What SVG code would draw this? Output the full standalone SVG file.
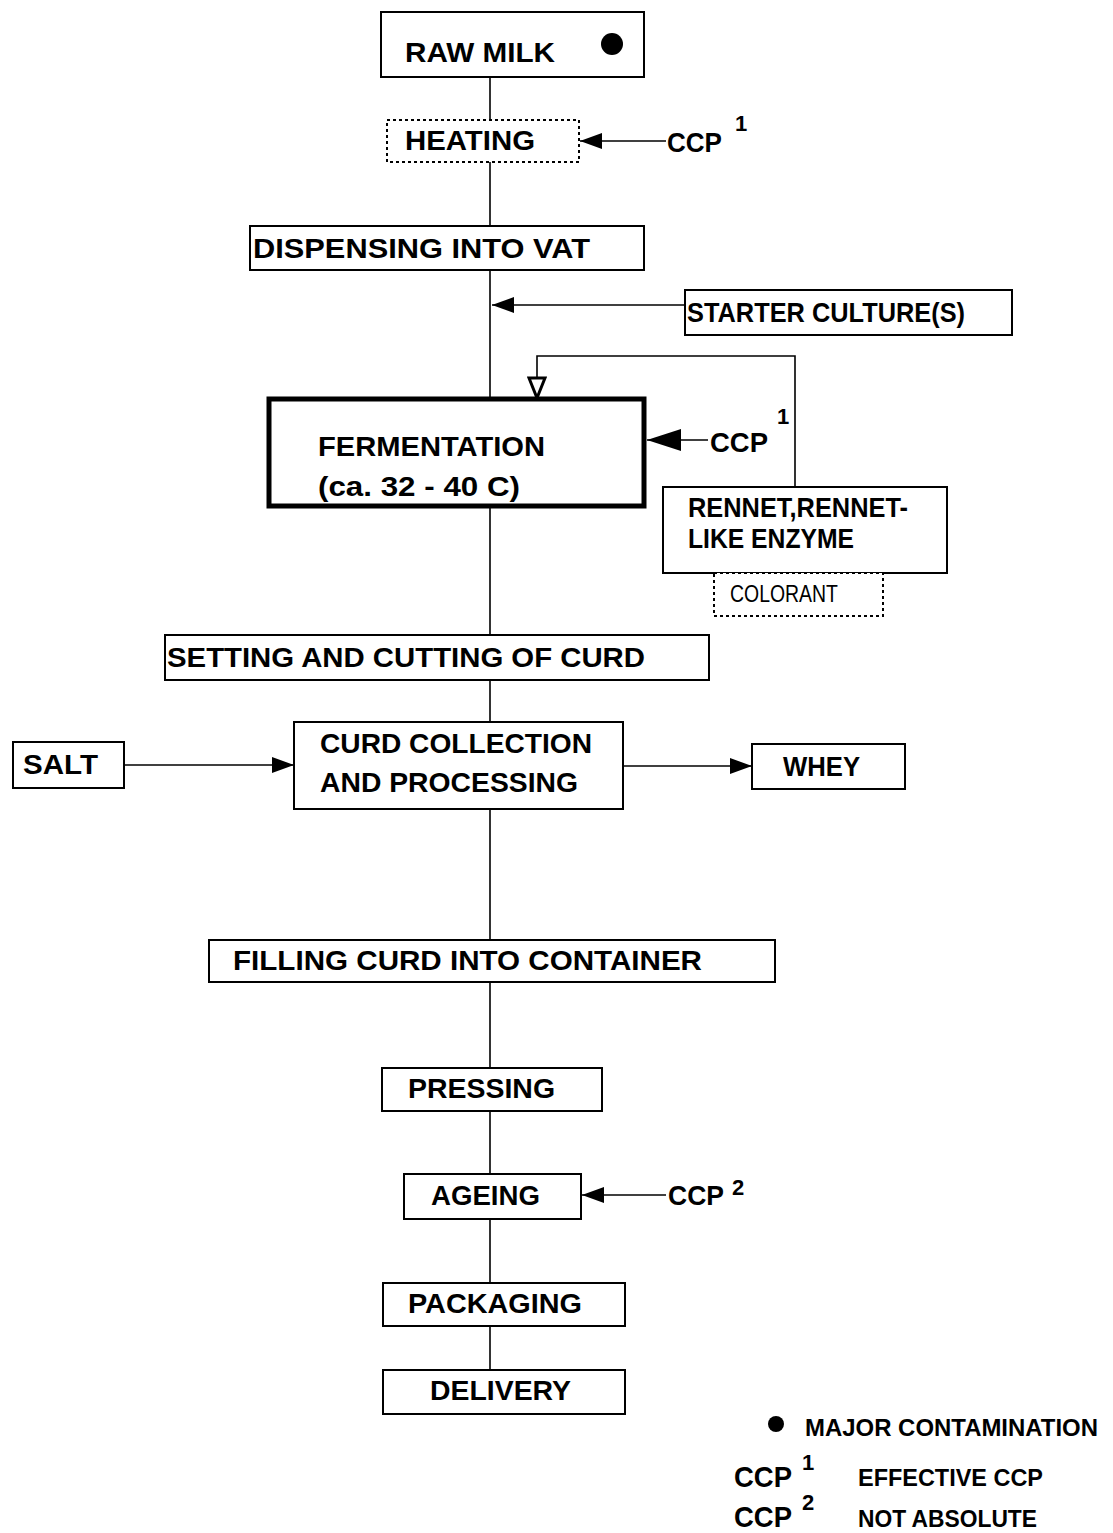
<svg xmlns="http://www.w3.org/2000/svg" width="1113" height="1533" viewBox="0 0 1113 1533">
<style>
.bx{fill:#fff;stroke:#000;stroke-width:2}
.dot{fill:#fff;stroke:#000;stroke-width:2;stroke-dasharray:3 3}
.thick{fill:#fff;stroke:#000;stroke-width:5}
.ln{fill:none;stroke:#000;stroke-width:1.6}
text{font-family:"Liberation Sans",Arial,sans-serif;font-weight:bold;font-size:28px;fill:#000}
.sm{font-weight:normal;font-size:24px}
.lg{font-size:24px}
.lc{font-size:30px}
.sup{font-size:22px}
</style>
<defs>
<marker id="ah" markerUnits="userSpaceOnUse" markerWidth="22" markerHeight="16" refX="22" refY="8" orient="auto"><path d="M0,0 L22,8 L0,16 z" fill="#000"/></marker>
<marker id="ahBig" markerUnits="userSpaceOnUse" markerWidth="34" markerHeight="22" refX="34" refY="11" orient="auto"><path d="M0,0 L34,11 L0,22 z" fill="#000"/></marker>
<marker id="ahOpen" markerUnits="userSpaceOnUse" markerWidth="26" markerHeight="20" refX="22" refY="10" orient="auto"><path d="M2,2 L22,10 L2,18 z" fill="#fff" stroke="#000" stroke-width="3"/></marker>
</defs>
<g id="connectors">
<line class="ln" x1="490" y1="77" x2="490" y2="120"/>
<line class="ln" x1="490" y1="162" x2="490" y2="226"/>
<line class="ln" x1="490" y1="270" x2="490" y2="398"/>
<line class="ln" x1="490" y1="507" x2="490" y2="635"/>
<line class="ln" x1="490" y1="680" x2="490" y2="722"/>
<line class="ln" x1="490" y1="809" x2="490" y2="940"/>
<line class="ln" x1="490" y1="982" x2="490" y2="1068"/>
<line class="ln" x1="490" y1="1111" x2="490" y2="1174"/>
<line class="ln" x1="490" y1="1219" x2="490" y2="1283"/>
<line class="ln" x1="490" y1="1326" x2="490" y2="1370"/>
<line class="ln" x1="666" y1="141" x2="580" y2="141" marker-end="url(#ah)"/>
<line class="ln" x1="685" y1="305" x2="492" y2="305" marker-end="url(#ah)"/>
<polyline class="ln" points="795,487 795,356 537,356 537,398" marker-end="url(#ahOpen)"/>
<line class="ln" x1="708" y1="440" x2="647" y2="440" stroke-width="3" marker-end="url(#ahBig)"/>
<line class="ln" x1="124" y1="765" x2="294" y2="765" marker-end="url(#ah)"/>
<line class="ln" x1="623" y1="766" x2="752" y2="766" stroke-width="2.5" marker-end="url(#ah)"/>
<line class="ln" x1="666" y1="1195" x2="582" y2="1195" marker-end="url(#ah)"/>
</g>
<g id="raw-milk"><rect class="bx" x="381" y="12" width="263" height="65"/><text x="405" y="62" textLength="150" lengthAdjust="spacingAndGlyphs">RAW MILK</text><circle cx="612" cy="44" r="11" fill="#000"/></g>
<g id="heating"><rect class="dot" x="387" y="120" width="192" height="42"/><text x="405" y="150" textLength="130" lengthAdjust="spacingAndGlyphs">HEATING</text></g>
<g id="ccp-heating"><text x="667" y="152" textLength="55" lengthAdjust="spacingAndGlyphs">CCP</text><text class="sup" x="735" y="131">1</text></g>
<g id="dispensing"><rect class="bx" x="250" y="226" width="394" height="44"/><text x="253" y="258" textLength="337" lengthAdjust="spacingAndGlyphs">DISPENSING INTO VAT</text></g>
<g id="starter"><rect class="bx" x="685" y="290" width="327" height="45"/><text x="687" y="322" textLength="278" lengthAdjust="spacingAndGlyphs">STARTER CULTURE(S)</text></g>
<g id="fermentation"><rect class="thick" x="269" y="399" width="375" height="107"/><text x="318" y="456" textLength="227" lengthAdjust="spacingAndGlyphs">FERMENTATION</text><text x="318" y="496" textLength="202" lengthAdjust="spacingAndGlyphs">(ca. 32 - 40 C)</text></g>
<g id="ccp-fermentation"><text x="710" y="452" textLength="58" lengthAdjust="spacingAndGlyphs">CCP</text><text class="sup" x="777" y="424">1</text></g>
<g id="rennet"><rect class="bx" x="663" y="487" width="284" height="86"/><text x="688" y="517" textLength="220" lengthAdjust="spacingAndGlyphs">RENNET,RENNET-</text><text x="688" y="548" textLength="166" lengthAdjust="spacingAndGlyphs">LIKE ENZYME</text></g>
<g id="colorant"><rect class="dot" x="714" y="573" width="169" height="43"/><text class="sm" x="730" y="602" textLength="108" lengthAdjust="spacingAndGlyphs">COLORANT</text></g>
<g id="setting"><rect class="bx" x="165" y="635" width="544" height="45"/><text x="167" y="667" textLength="478" lengthAdjust="spacingAndGlyphs">SETTING AND CUTTING OF CURD</text></g>
<g id="salt"><rect class="bx" x="13" y="742" width="111" height="46"/><text x="23" y="774" textLength="75" lengthAdjust="spacingAndGlyphs">SALT</text></g>
<g id="curd-collection"><rect class="bx" x="294" y="722" width="329" height="87"/><text x="320" y="753" textLength="272" lengthAdjust="spacingAndGlyphs">CURD COLLECTION</text><text x="320" y="792" textLength="258" lengthAdjust="spacingAndGlyphs">AND PROCESSING</text></g>
<g id="whey"><rect class="bx" x="752" y="744" width="153" height="45"/><text x="783" y="776" textLength="77" lengthAdjust="spacingAndGlyphs">WHEY</text></g>
<g id="filling"><rect class="bx" x="209" y="940" width="566" height="42"/><text x="233" y="970" textLength="469" lengthAdjust="spacingAndGlyphs">FILLING CURD INTO CONTAINER</text></g>
<g id="pressing"><rect class="bx" x="382" y="1068" width="220" height="43"/><text x="408" y="1098" textLength="147" lengthAdjust="spacingAndGlyphs">PRESSING</text></g>
<g id="ageing"><rect class="bx" x="404" y="1174" width="177" height="45"/><text x="431" y="1205" textLength="109" lengthAdjust="spacingAndGlyphs">AGEING</text></g>
<g id="ccp-ageing"><text x="668" y="1205" textLength="56" lengthAdjust="spacingAndGlyphs">CCP</text><text class="sup" x="732" y="1195">2</text></g>
<g id="packaging"><rect class="bx" x="383" y="1283" width="242" height="43"/><text x="408" y="1313" textLength="174" lengthAdjust="spacingAndGlyphs">PACKAGING</text></g>
<g id="delivery"><rect class="bx" x="383" y="1370" width="242" height="44"/><text x="430" y="1400" textLength="141" lengthAdjust="spacingAndGlyphs">DELIVERY</text></g>
<g id="legend">
<circle cx="776" cy="1424" r="8" fill="#000"/>
<text class="lg" x="805" y="1436" textLength="293" lengthAdjust="spacingAndGlyphs">MAJOR CONTAMINATION</text>
<text class="lc" x="734" y="1487" textLength="58" lengthAdjust="spacingAndGlyphs">CCP</text><text class="sup" x="802" y="1470">1</text>
<text class="lg" x="858" y="1486" textLength="185" lengthAdjust="spacingAndGlyphs">EFFECTIVE CCP</text>
<text class="lc" x="734" y="1527" textLength="58" lengthAdjust="spacingAndGlyphs">CCP</text><text class="sup" x="802" y="1510">2</text>
<text class="lg" x="858" y="1527" textLength="179" lengthAdjust="spacingAndGlyphs">NOT ABSOLUTE</text>
</g>
</svg>
